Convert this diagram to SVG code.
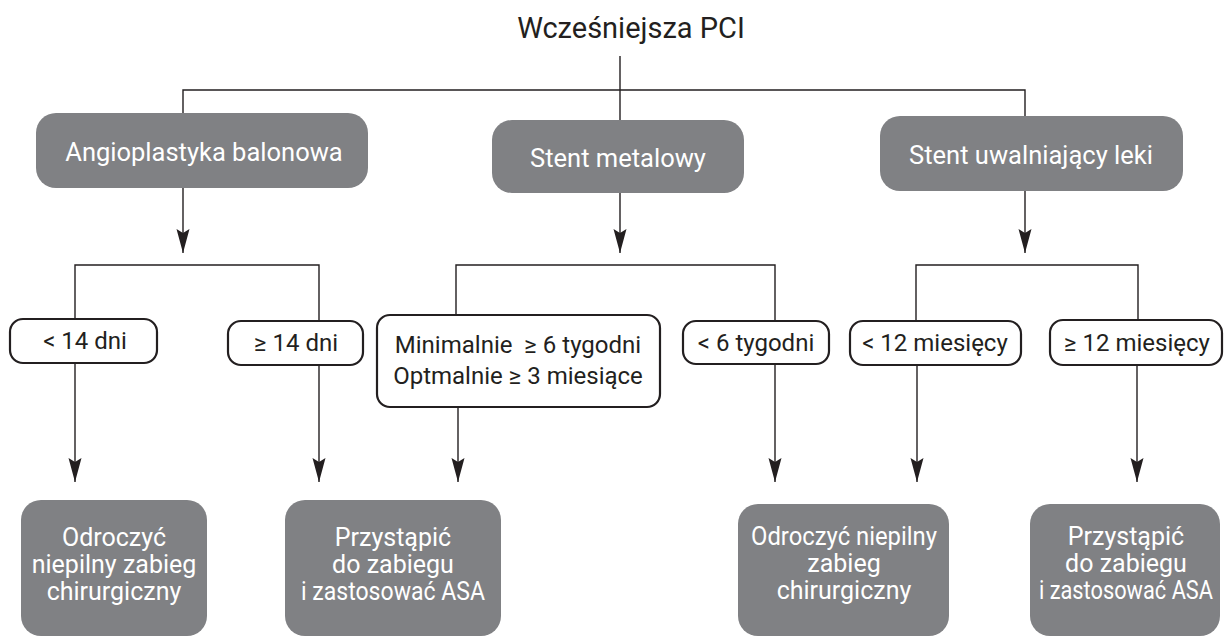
<svg xmlns="http://www.w3.org/2000/svg" width="1227" height="637" viewBox="0 0 1227 637">
<style>
text{font-family:Roboto,"Open Sans","Liberation Sans",sans-serif;text-anchor:middle;}
.title{font-size:29px;fill:#231f20;}
.g{fill:#808184;}
.gt{font-size:25.5px;fill:#ffffff;}
.ot{font-size:25px;fill:#ffffff;}
.lab{fill:#ffffff;stroke:#231f20;stroke-width:2.2;}
.lt{font-size:24px;fill:#231f20;white-space:pre;}
.ln{fill:none;stroke:#231f20;stroke-width:1.4;}
.ar{fill:none;stroke:#231f20;stroke-width:1.4;marker-end:url(#ah);}
</style>
<defs>
<marker id="ah" viewBox="-25 -7 26 14" markerWidth="26" markerHeight="14" refX="0" refY="0" orient="auto" markerUnits="userSpaceOnUse">
<path d="M0,0 L-24,-6.5 L-20,0 L-24,6.5 Z" fill="#231f20"/>
</marker>
</defs>
<rect width="1227" height="637" fill="#ffffff"/>
<g id="connectors">
<path class="ln" d="M620,56 V120"/>
<path class="ln" d="M183,113 V90 H1025 V116"/>
<path class="ar" d="M183,188 V253"/>
<path class="ar" d="M620,193 V253"/>
<path class="ar" d="M1025,191 V253"/>
<path class="ln" d="M75,319 V265 H319 V321"/>
<path class="ln" d="M456,315 V265 H775 V321"/>
<path class="ln" d="M916,321 V265 H1138 V321"/>
<path class="ar" d="M75,363 V482"/>
<path class="ar" d="M319,365 V482"/>
<path class="ar" d="M458,407 V482"/>
<path class="ar" d="M775,364 V482"/>
<path class="ar" d="M917,365 V482"/>
<path class="ar" d="M1137,365 V482"/>
</g>
<g id="title"><text class="title" x="631" y="38">Wcześniejsza PCI</text></g>
<g id="n-angio"><rect class="g" x="36" y="113" width="332" height="75" rx="20"/><text class="gt" x="204" y="161">Angioplastyka balonowa</text></g>
<g id="n-metal"><rect class="g" x="492" y="120" width="252" height="73" rx="20"/><text class="gt" x="618" y="167">Stent metalowy</text></g>
<g id="n-des"><rect class="g" x="880" y="116" width="303" height="75" rx="20"/><text class="gt" x="1031" y="164">Stent uwalniający leki</text></g>
<g id="l-14a"><rect class="lab" x="10" y="319" width="147" height="44" rx="13"/><text class="lt" x="85" y="349">&lt; 14 dni</text></g>
<g id="l-14b"><rect class="lab" x="228" y="321" width="135" height="44" rx="13"/><text class="lt" x="296" y="351">≥ 14 dni</text></g>
<g id="l-min"><rect class="lab" x="377" y="315" width="283" height="92" rx="13"/><text class="lt" x="518" y="353">Minimalnie  ≥ 6 tygodni</text><text class="lt" x="518" y="384">Optmalnie ≥ 3 miesiące</text></g>
<g id="l-6"><rect class="lab" x="683" y="321" width="146" height="43" rx="13"/><text class="lt" x="756" y="351">&lt; 6 tygodni</text></g>
<g id="l-12a"><rect class="lab" x="850" y="321" width="171" height="44" rx="13"/><text class="lt" x="935" y="351">&lt; 12 miesięcy</text></g>
<g id="l-12b"><rect class="lab" x="1050" y="320" width="172" height="45" rx="13"/><text class="lt" x="1137" y="351">≥ 12 miesięcy</text></g>
<g id="o-1"><rect class="g" x="21" y="500" width="186" height="136" rx="20"/><text class="ot" x="114" y="546">Odroczyć</text><text class="ot" x="114" y="573">niepilny zabieg</text><text class="ot" x="114" y="600">chirurgiczny</text></g>
<g id="o-2"><rect class="g" x="285" y="500" width="216" height="136" rx="20"/><text class="ot" x="393" y="546">Przystąpić</text><text class="ot" x="393" y="573">do zabiegu</text><text class="ot" x="393" y="600" textLength="184" lengthAdjust="spacingAndGlyphs">i zastosować ASA</text></g>
<g id="o-3"><rect class="g" x="738" y="504" width="211" height="132" rx="20"/><text class="ot" x="844" y="545" textLength="186" lengthAdjust="spacingAndGlyphs">Odroczyć niepilny</text><text class="ot" x="844" y="572">zabieg</text><text class="ot" x="844" y="599">chirurgiczny</text></g>
<g id="o-4"><rect class="g" x="1030" y="504" width="190" height="132" rx="20"/><text class="ot" x="1126" y="545">Przystąpić</text><text class="ot" x="1126" y="572">do zabiegu</text><text class="ot" x="1126" y="599" textLength="174" lengthAdjust="spacingAndGlyphs">i zastosować ASA</text></g>
</svg>
